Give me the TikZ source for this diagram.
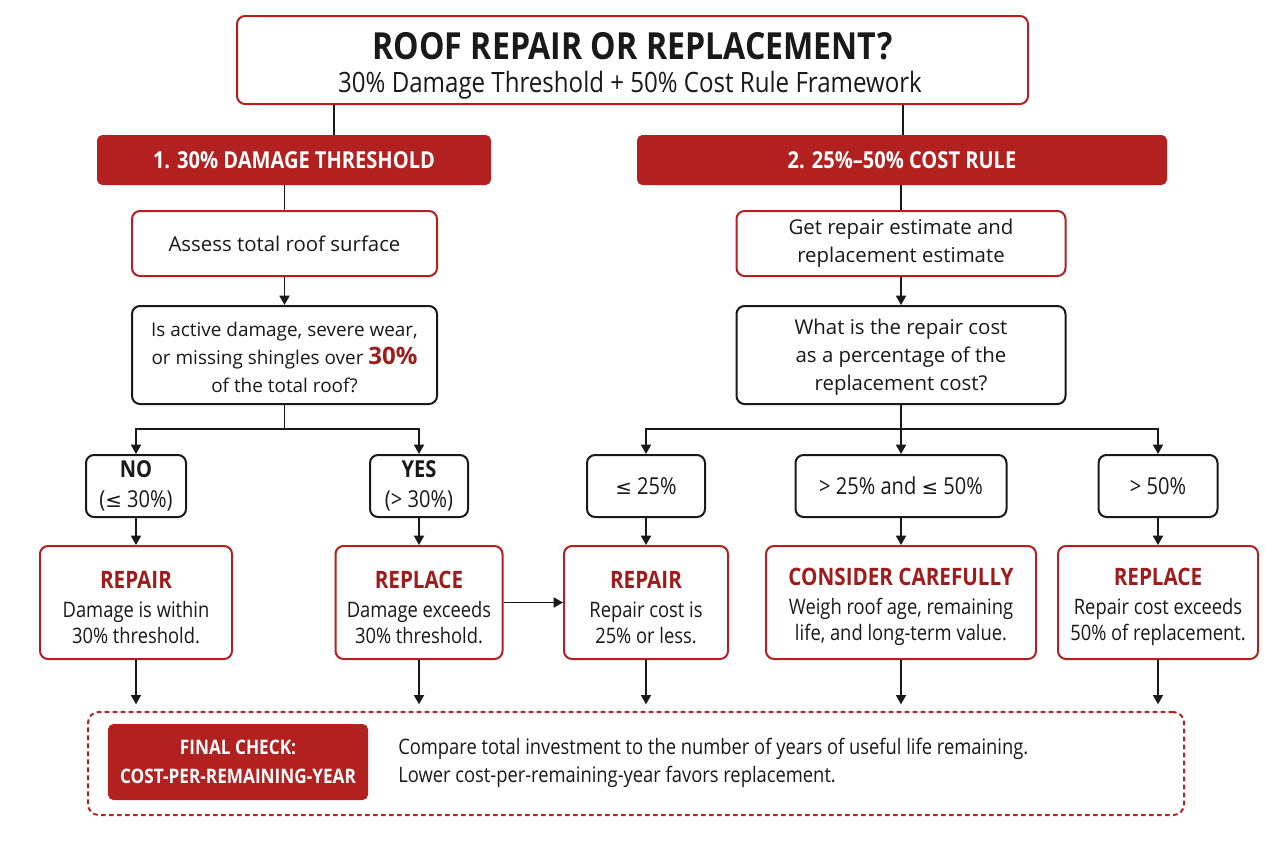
\documentclass[tikz,border=0pt]{standalone}
\usepackage{fontspec}
\setmainfont{Open Sans}
\newfontfamily\cond[FakeStretch=0.86]{Open Sans}
\newfontfamily\dv{DejaVu Sans}
\usetikzlibrary{arrows.meta,calc}
\definecolor{rred}{RGB}{178,32,32}
\definecolor{tred}{RGB}{160,28,28}
\definecolor{ink}{RGB}{25,25,25}
\newcommand{\lesym}{{\dv\fontsize{0.85em}{1em}\selectfont ≤}}
\begin{document}
\begin{tikzpicture}[x=0.75pt,y=-0.75pt,
  box/.style={draw, line width=1.5pt, rounded corners=6pt, fill=white, align=center, inner sep=0pt, text=ink},
  redbox/.style={box, draw=rred},
  blkbox/.style={box, draw=ink},
  hdr/.style={fill=rred, rounded corners=4pt, text=white, inner sep=0pt, font=\cond\bfseries\fontsize{17.5}{20}\selectfont},
  ln/.style={line width=1.3pt, draw=ink},
  arr/.style={ln, -{Triangle[length=7pt,width=7.5pt]}},
  body/.style={font=\fontsize{15.3}{21}\selectfont},
  cnd/.style={font=\cond\fontsize{17.5}{22}\selectfont},
  res/.style={font=\cond\fontsize{16}{19.5}\selectfont},
  plain/.style={inner sep=0pt, text=ink, align=center}
]
\useasboundingbox (0,0) rectangle (1280,853);
\fill[white] (0,0) rectangle (1280,853);

% title
\node[redbox, minimum width=593.25pt, minimum height=66pt] (title) at (632.5,60) {};
\node[plain, font=\cond\bfseries\fontsize{28}{30}\selectfont] (ttl) at (632.5,46) {ROOF REPAIR OR REPLACEMENT?};
\node[plain, font=\cond\fontsize{21}{24}\selectfont] (sub) at (630,85) {30\% Damage Threshold + 50\% Cost Rule Framework};

% headers
\node[hdr, minimum width=295.5pt, minimum height=37.5pt] (h1) at (294,160) {1. 30\% DAMAGE THRESHOLD};
\node[hdr, minimum width=397.5pt, minimum height=37.5pt] (h2) at (902,160) {2. 25\%–50\% COST RULE};

% left column
\node[redbox, body, minimum width=228.75pt, minimum height=48.75pt] (assess) at (284.5,243.5) {Assess total roof surface};
\node[blkbox, font=\fontsize{14.2}{21}\selectfont, minimum width=228.75pt, minimum height=73.5pt] (q1) at (284.5,355)
  {\rule{0pt}{14pt}Is active damage, severe wear,\\ or missing shingles over {\bfseries\color{tred}\fontsize{18}{21}\selectfont 30\%}\\ of the total roof?};

% right column
\node[redbox, body, minimum width=246.75pt, minimum height=48.75pt] (get) at (901,243.5) {Get repair estimate and\\ replacement estimate};
\node[blkbox, body, minimum width=246.75pt, minimum height=73.5pt] (q2) at (901,355)
  {\rule{0pt}{15pt}What is the repair cost\\ as a percentage of the\\ replacement cost?};

% condition boxes
\node[blkbox, cnd, minimum width=75pt, minimum height=46.5pt] (no) at (136,486) {{\bfseries NO}\\ (\lesym\ 30\%)};
\node[blkbox, cnd, minimum width=73.5pt, minimum height=46.5pt] (yes) at (419,486) {{\bfseries YES}\\ (> 30\%)};
\node[blkbox, cnd, minimum width=88.5pt, minimum height=46.5pt] (le) at (646,486) {\lesym\ 25\%};
\node[blkbox, cnd, minimum width=158.25pt, minimum height=46.5pt] (mid) at (901,486) {> 25\% and \lesym\ 50\%};
\node[blkbox, cnd, minimum width=89.25pt, minimum height=46.5pt] (gt) at (1158,486) {> 50\%};

% result boxes
\newcommand{\rt}[1]{{\rule{0pt}{20pt}\cond\bfseries\color{tred}\fontsize{18}{21}\selectfont #1}}
\node[redbox, res, minimum width=144pt, minimum height=84.75pt] (r1) at (136,602.5) {\rt{REPAIR}\\[2pt] Damage is within\\ 30\% threshold.};
\node[redbox, res, minimum width=125.25pt, minimum height=84.75pt] (r2) at (419,602.5) {\rt{REPLACE}\\[2pt] Damage exceeds\\ 30\% threshold.};
\node[redbox, res, minimum width=123pt, minimum height=84.75pt] (r3) at (646,602.5) {\rt{REPAIR}\\[2pt] Repair cost is\\ 25\% or less.};
\node[redbox, res, minimum width=202.5pt, minimum height=84.75pt] (r4) at (901,602.5) {\rt{CONSIDER CAREFULLY}\\[2pt] Weigh roof age, remaining\\ life, and long-term value.};
\node[redbox, res, minimum width=150pt, minimum height=84.75pt] (r5) at (1158,602.5) {\rt{REPLACE}\\[2pt] Repair cost exceeds\\ 50\% of replacement.};

% final check
\node[draw=rred, line width=1.5pt, dash pattern=on 3.5pt off 2.5pt, rounded corners=8pt, minimum width=822pt, minimum height=77.25pt, inner sep=0pt] (dash) at (636,763.5) {};
\node[fill=rred, rounded corners=4pt, text=white, align=center, minimum width=195pt, minimum height=57pt, inner sep=0pt,
  font=\cond\bfseries\fontsize{15}{22}\selectfont] (fc) at (238,762) {FINAL CHECK:\\ COST-PER-REMAINING-YEAR};
\node[anchor=west, align=left, text=ink, inner sep=0pt, font=\cond\fontsize{16}{21}\selectfont] (cmp) at (398,763)
  {Compare total investment to the number of years of useful life remaining.\\ Lower cost-per-remaining-year favors replacement.};

% connectors
\coordinate (cl) at (334,0);
\coordinate (cr) at (903,0);
\draw[ln] (title.south -| cl) -- (h1.north -| cl);
\draw[ln] (title.south -| cr) -- (h2.north -| cr);
\draw[ln] (h1.south -| assess) -- (assess.north);
\draw[ln] (h2.south -| get) -- (get.north);
\draw[arr] (assess.south) -- (q1.north);
\draw[arr] (get.south) -- (q2.north);

\draw[ln] (q1.south) -- ++(0,24) coordinate (b1);
\draw[arr] (b1) -| (no.north);
\draw[arr] (b1) -| (yes.north);
\draw[ln] (q2.south) -- ++(0,24) coordinate (b2);
\draw[arr] (b2) -| (le.north);
\draw[arr] (b2) -- (mid.north);
\draw[arr] (b2) -| (gt.north);

\draw[arr] (no.south) -- (r1.north);
\draw[arr] (yes.south) -- (r2.north);
\draw[arr] (le.south) -- (r3.north);
\draw[arr] (mid.south) -- (r4.north);
\draw[arr] (gt.south) -- (r5.north);
\draw[arr] (r2.east) -- (r3.west);

\foreach \r in {r1,r2,r3,r4,r5}
  \draw[arr, shorten >=5pt] (\r.south) -- (\r.south |- dash.north);
\end{tikzpicture}
\end{document}
